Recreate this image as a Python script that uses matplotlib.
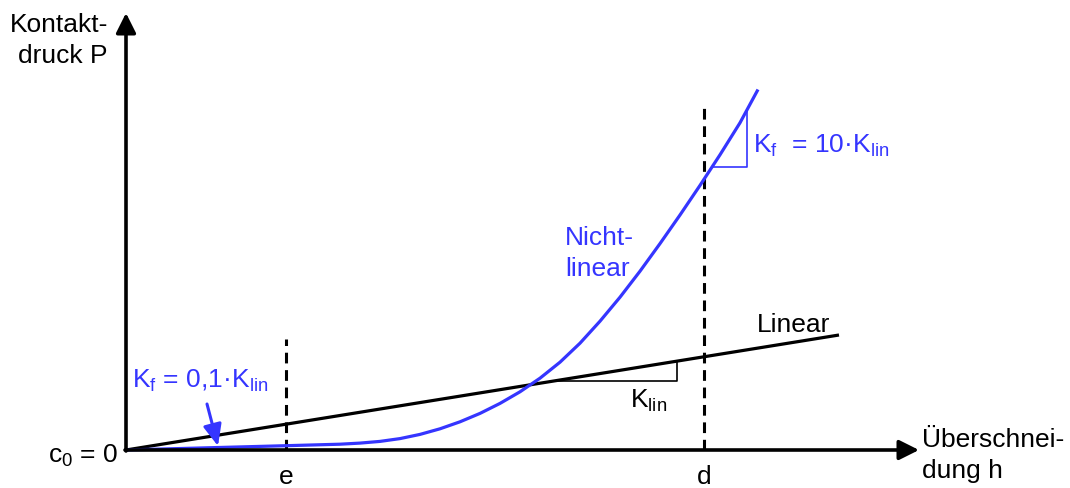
import matplotlib
matplotlib.use("Agg")
import matplotlib.pyplot as plt

plt.rcParams['font.family'] = ['Liberation Sans', 'DejaVu Sans']
plt.rcParams['mathtext.fontset'] = 'custom'
plt.rcParams['mathtext.rm'] = 'Liberation Sans'
plt.rcParams['mathtext.it'] = 'Liberation Sans:italic'

BLUE = '#3535ff'

# schematic data (h = overlap, P = contact pressure), arbitrary units
h_curve = [0, 74, 160, 214, 234, 254, 274, 294, 314, 334, 354, 374, 394,
           414, 434, 454, 474, 494, 514, 534, 554, 574, 594, 614, 632]
P_curve = [0, 2, 4.3, 5.8, 6.9, 8.6, 11.4, 15.6, 21.2, 28.2, 36.6, 46.6,
           58.2, 71.8, 87.8, 106.8, 128.8, 152.8, 178.8, 206.4, 235, 264.6,
           295.2, 327.2, 360.5]

h_lin = [0, 713]
P_lin = [0, 115]

h_e, P_e_top = 160, 111
h_d, P_d_top = 578, 348

klin_tri_h = [427, 551, 551]
klin_tri_P = [69, 69, 89]
kf_tri_h = [586, 621, 621]
kf_tri_P = [283, 283, 340]

fig = plt.figure(figsize=(10.7, 4.89), dpi=100)
ax = fig.add_axes([0, 0, 1, 1])
ax.set_xlim(-126, 944)
ax.set_ylim(-38, 451)
ax.axis('off')

# axes with arrows
arr = dict(arrowstyle='-|>,head_length=0.6,head_width=0.3', lw=2.6,
           color='black', mutation_scale=20, shrinkA=0, shrinkB=0)
ax.annotate('', xy=(0, 437), xytext=(0, -1), arrowprops=arr)
ax.annotate('', xy=(793, 0), xytext=(-1, 0), arrowprops=arr)

# dashed markers
ax.plot([h_e, h_e], [0, P_e_top], color='black', lw=2.2, ls=(0, (3.5, 2.2)))
ax.plot([h_d, h_d], [0, P_d_top], color='black', lw=2.2, ls=(0, (3.5, 2.2)))

# linear and nonlinear curves
ax.plot(h_lin, P_lin, color='black', lw=2.3, solid_capstyle='butt')
ax.plot(h_curve, P_curve, color=BLUE, lw=2.3, solid_capstyle='butt',
        solid_joinstyle='round')

# slope triangles
ax.plot(klin_tri_h, klin_tri_P, color='black', lw=1.2)
ax.plot(kf_tri_h, kf_tri_P, color=BLUE, lw=1.2)

# arrow to the initial slope
ax.annotate('', xy=(92, 4), xytext=(81, 46),
            arrowprops=dict(arrowstyle='-|>,head_length=0.65,head_width=0.28',
                            lw=2.2, color=BLUE, mutation_scale=20,
                            shrinkA=0, shrinkB=0))

fs = 19
ax.text(-18, 419, 'Kontakt-', ha='right', va='baseline', fontsize=fs)
ax.text(-19, 388, 'druck P', ha='right', va='baseline', fontsize=fs)
ax.text(-8, -12, r'c$_\mathrm{0}$ = 0', ha='right', va='baseline', fontsize=fs)
ax.text(h_e, -33, 'e', ha='center', va='baseline', fontsize=fs)
ax.text(h_d, -33, 'd', ha='center', va='baseline', fontsize=fs)
ax.text(796, 4, 'Überschnei-', ha='left', va='baseline', fontsize=fs)
ax.text(796, -27, 'dung h', ha='left', va='baseline', fontsize=fs)
ax.text(631, 119, 'Linear', ha='left', va='baseline', fontsize=fs)
ax.text(439, 206, 'Nicht-', ha='left', va='baseline', fontsize=fs, color=BLUE)
ax.text(439, 175, 'linear', ha='left', va='baseline', fontsize=fs, color=BLUE)
ax.text(627, 298, r'K$_\mathrm{f}$  = 10·K$_\mathrm{lin}$', ha='left',
        va='baseline', fontsize=fs, color=BLUE)
ax.text(6, 63, r'K$_\mathrm{f}$ = 0,1·K$_\mathrm{lin}$', ha='left',
        va='baseline', fontsize=fs, color=BLUE)
ax.text(504, 43, r'K$_\mathrm{lin}$', ha='left', va='baseline', fontsize=fs)

fig.savefig('out.png', dpi=100)
